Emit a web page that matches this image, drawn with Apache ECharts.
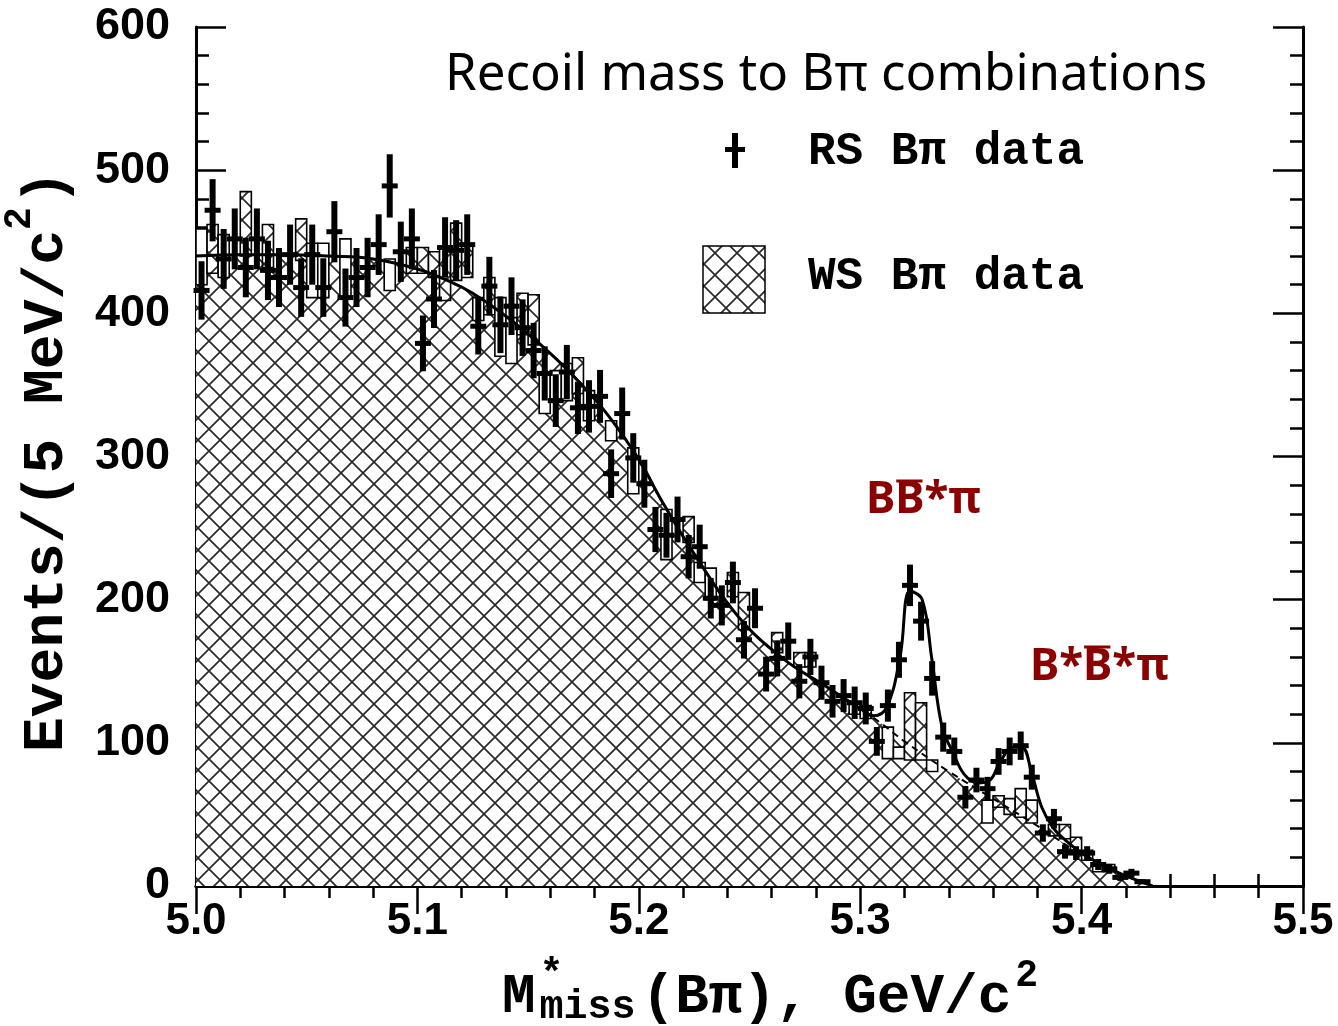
<!DOCTYPE html>
<html><head><meta charset="utf-8">
<script src="https://cdn.jsdelivr.net/npm/echarts@6/dist/echarts.min.js"></script>
<style>html,body{margin:0;padding:0;background:#fff}#c{width:1338px;height:1026px}</style>
</head><body><div id="c"></div>
<script>
// ---- histogram binning (5 MeV bins starting at 5.000 GeV) ----
const binStart = 5.0;
const binWidth = 0.005;

// RS B-pi data: events per bin (error bars = sqrt(N))
const rsCounts = [416,472,438,452,432,452,430,425,441,418,
                  441,418,457,411,425,432,448,489,443,452,
                  379,410,446,444,448,391,419,392,405,390,
                  374,358,339,359,334,335,342,288,330,299,
                  281,249,245,256,230,237,201,196,212,172,
                  194,148,159,171,143,160,142,129,133,128,
                  124,101,126,158,210,185,145,104,94,62,
                  74,68,87,94,98,76,37,47,24,23,
                  23,15,12,6,9,3];

// WS B-pi data: box low / high edge per bin (null = box not visible)
const wsLow  = [420,428,425,null,440,null,432,null,null,437,
                411,411,null,410,null,null,null,416,null,428,
                428,425,409,423,425,395,399,370,365,385,
                378,330,340,339,344,325,null,311,null,274,
                null,null,228,null,240,212,200,null,202,179,
                null,null,163,null,153,153,null,null,null,120,
                117,null,89,89,88,88,80,null,null,null,
                null,44,55,50,48,44,null,35,33,25,
                18,10,10,null,null,null];
const wsHigh = [459,462,455,null,485,null,462,null,null,466,
                449,449,null,452,null,null,null,438,null,446,
                446,443,446,463,448,411,425,411,397,414,
                413,357,360,365,369,346,null,325,null,306,
                null,null,263,null,258,226,222,null,219,205,
                null,null,177,null,163,163,null,null,null,127,
                126,null,111,97,135,128,88,null,null,null,
                null,60,63,61,68,60,null,43,43,34,
                25,15,15,null,null,null];

// Background (dashed) curve
const bkgX = [5.000,5.020,5.040,5.060,5.080,5.100,5.115,5.125,5.140,5.155,5.170,5.185,5.200,5.210,5.225,5.245,5.265,5.285,5.300,5.310,5.320,5.340,5.360,5.380,5.400,5.420,5.432];
const bkgY = [440,441,441,440,438,431,422,414,398,379,357,331,298,270,232,188,159,139,124,113,101,80,61,42,22,7,0];

// Total fit (solid) curve
const fitX = [5.000,5.020,5.040,5.060,5.080,5.100,5.115,5.125,5.140,5.155,5.170,5.185,5.200,5.210,5.225,5.245,5.265,5.285,5.300,5.306,5.312,5.318,5.3225,5.328,5.3324,5.337,5.342,5.347,5.353,5.3586,5.363,5.369,5.373,5.3776,5.382,5.387,5.392,5.400,5.410,5.420,5.432];
const fitY = [440,441,441,440,438,431,422,414,398,379,357,331,298,270,232,188,159,139,124,119,125,160,206,200,158,111,93,78,72,74,86,97,97,78,55,41,33,23,14,7,0];

// axis ranges / ticks
const xMin = 5.0, xMax = 5.5, xStep = 0.1;
const yMin = 0, yMax = 600, yStep = 100;

// ---- helpers ----
function makeHatch(){
  const c = document.createElement('canvas'); c.width = 22; c.height = 22;
  const g = c.getContext('2d');
  g.fillStyle = '#fff'; g.fillRect(0,0,22,22);
  g.strokeStyle = '#2a2a2a'; g.lineWidth = 1.7;
  g.beginPath(); g.moveTo(-3,-3); g.lineTo(25,25); g.moveTo(-3,25); g.lineTo(25,-3); g.stroke();
  return c;
}
const hatchImg = makeHatch();
const hatch = {image: hatchImg, repeat: 'repeat'};

function bkgAt(x){
  for (let i=0;i<bkgX.length-1;i++){
    if (x>=bkgX[i] && x<=bkgX[i+1]){
      const t=(x-bkgX[i])/(bkgX[i+1]-bkgX[i]);
      return bkgY[i]+t*(bkgY[i+1]-bkgY[i]);
    }
  }
  return 0;
}
const center = i => binStart + (i+0.5)*binWidth;

const rsData = rsCounts.map((n,i)=>[center(i), n]);
const wsData = [];
wsLow.forEach((lo,i)=>{ if(lo!==null) wsData.push([center(i), lo, wsHigh[i]]); });

const mctx = document.createElement('canvas').getContext('2d');
function tw(font, s){ mctx.font = font; return mctx.measureText(s).width; }

const chart = echarts.init(document.getElementById('c'), null, {renderer:'canvas'});

const axisCommon = {
  type:'value',
  axisLine:{show:true, lineStyle:{color:'#000', width:3}},
  splitLine:{show:false},
  minorSplitLine:{show:false},
};

// title pieces
const yTitleFont = 'bold 58px "Liberation Mono"';
const yMain = 'Events/(5 MeV/c';
const yW = tw(yTitleFont, yMain);
const supFont = 'bold 38px "Liberation Mono"';
const supW = tw(supFont, '2');

const xMainFont = 'bold 56px "Liberation Mono"';
const xSubFont = 'bold 40px "Liberation Mono"';
const mW = tw(xMainFont, 'M');
const missW = tw(xSubFont, 'miss');
const xRest = '(B\u03C0), GeV/c';
const restW = tw(xMainFont, xRest);

const lblFont = 'bold 44px "Noto Sans"';
const bW = tw(lblFont, 'B');
const bsW = tw(lblFont, 'B*');

const graphics = [
  // y title
  {type:'text', x:47, y:752, rotation:Math.PI/2, silent:true,
   style:{text:yMain, font:yTitleFont, fill:'#000', align:'left', verticalAlign:'middle'}},
  {type:'text', x:20, y:752 - yW, rotation:Math.PI/2, silent:true,
   style:{text:'2', font:supFont, fill:'#000', align:'left', verticalAlign:'middle'}},
  {type:'text', x:47, y:752 - yW - supW - 2, rotation:Math.PI/2, silent:true,
   style:{text:')', font:yTitleFont, fill:'#000', align:'left', verticalAlign:'middle'}},
  // x title
  {type:'text', x:502, y:998, silent:true, style:{text:'M', font:xMainFont, fill:'#000', align:'left', verticalAlign:'middle'}},
  {type:'text', x:502+mW+4, y:976, silent:true, style:{text:'*', font:xSubFont, fill:'#000', align:'left', verticalAlign:'middle'}},
  {type:'text', x:502+mW+4, y:1008, silent:true, style:{text:'miss', font:xSubFont, fill:'#000', align:'left', verticalAlign:'middle'}},
  {type:'text', x:502+mW+missW+10, y:998, silent:true, style:{text:xRest, font:xMainFont, fill:'#000', align:'left', verticalAlign:'middle'}},
  {type:'text', x:502+mW+missW+10+restW+4, y:976, silent:true, style:{text:'2', font:supFont, fill:'#000', align:'left', verticalAlign:'middle'}},
  // chart title
  {type:'text', x:445, y:75, silent:true, style:{text:'Recoil mass to B\u03C0 combinations', font:'51px "Noto Sans"', fill:'#000', align:'left', verticalAlign:'middle'}},
  // legend
  {type:'rect', silent:true, shape:{x:732, y:133, width:6, height:35}, style:{fill:'#000'}},
  {type:'rect', silent:true, shape:{x:725, y:147, width:20, height:5}, style:{fill:'#000'}},
  {type:'text', x:808, y:152, silent:true, style:{text:'RS B\u03C0 data', font:'bold 46px "Liberation Mono"', fill:'#000', align:'left', verticalAlign:'middle'}},
  {type:'rect', silent:true, shape:{x:703, y:246, width:62, height:67}, style:{fill:hatch, stroke:'#000', lineWidth:1.5}},
  {type:'text', x:808, y:277, silent:true, style:{text:'WS B\u03C0 data', font:'bold 46px "Liberation Mono"', fill:'#000', align:'left', verticalAlign:'middle'}},
  // peak labels
  {type:'text', x:866, y:500, silent:true, style:{text:'BB*\u03C0', font:lblFont, fill:'#8B0000', align:'left', verticalAlign:'middle'}},
  {type:'line', silent:true, shape:{x1:866+bW+1, y1:481, x2:866+2*bW-2, y2:481}, style:{stroke:'#8B0000', lineWidth:3}},
  {type:'text', x:1030, y:667, silent:true, style:{text:'B*B*\u03C0', font:lblFont, fill:'#8B0000', align:'left', verticalAlign:'middle'}},
  {type:'line', silent:true, shape:{x1:1030+bsW+1, y1:647, x2:1030+bsW+bW-2, y2:647}, style:{stroke:'#8B0000', lineWidth:3}},
];

const option = {
  animation:false,
  backgroundColor:'#fff',
  grid:{left:196, top:27, width:1107, height:859, containLabel:false},
  xAxis:[
    Object.assign({}, axisCommon, {position:'bottom', min:xMin, max:xMax, interval:xStep,
      axisTick:{show:true, inside:true, length:28, lineStyle:{color:'#000', width:2.5}},
      minorTick:{show:true, splitNumber:5, length:12, lineStyle:{color:'#000', width:2.5}},
      axisLabel:{show:true, margin:14, color:'#000', fontSize:44, fontWeight:'bold', fontFamily:'"Liberation Sans", Arial, sans-serif',
        showMinLabel:true, showMaxLabel:true, formatter:v=>v.toFixed(1)}}),
    Object.assign({}, axisCommon, {position:'top', min:xMin, max:xMax, interval:xStep,
      axisTick:{show:true, inside:true, length:28, lineStyle:{color:'#000', width:2.5}},
      minorTick:{show:true, splitNumber:5, length:12, lineStyle:{color:'#000', width:2.5}},
      axisLabel:{show:false}})
  ],
  yAxis:[
    Object.assign({}, axisCommon, {position:'left', min:yMin, max:yMax, interval:yStep,
      axisTick:{show:true, inside:true, length:30, lineStyle:{color:'#000', width:2.5}},
      minorTick:{show:true, splitNumber:5, length:13, lineStyle:{color:'#000', width:2.5}},
      axisLabel:{show:true, margin:26, color:'#000', fontSize:45, fontWeight:'bold', fontFamily:'"Liberation Sans", Arial, sans-serif',
        showMinLabel:true, showMaxLabel:true}}),
    Object.assign({}, axisCommon, {position:'right', min:yMin, max:yMax, interval:yStep,
      axisTick:{show:true, inside:true, length:30, lineStyle:{color:'#000', width:2.5}},
      minorTick:{show:true, splitNumber:5, length:13, lineStyle:{color:'#000', width:2.5}},
      axisLabel:{show:false}})
  ],
  graphic: graphics,
  series:[
    { // hatched region under background curve
      type:'line', z:1, xAxisIndex:0, yAxisIndex:0, silent:true,
      data: bkgX.map((x,i)=>[x,bkgY[i]]), smooth:0.4, symbol:'none',
      lineStyle:{width:0}, areaStyle:{color:hatch, opacity:1}
    },
    { // WS boxes
      type:'custom', z:2, xAxisIndex:0, yAxisIndex:0, silent:true,
      data: wsData, encode:{x:0, y:[1,2]},
      renderItem:(params, api)=>{
        const x = api.value(0), lo = api.value(1), hi = api.value(2);
        const p1 = api.coord([x - binWidth/2, hi]);
        const p2 = api.coord([x + binWidth/2, lo]);
        const hatched = (lo+hi)/2 > bkgAt(x);
        return {type:'rect', shape:{x:p1[0], y:p1[1], width:p2[0]-p1[0], height:p2[1]-p1[1]},
          style:{fill: hatched ? hatch : '#fff', stroke:'#000', lineWidth:1.6}};
      }
    },
    { // background dashed
      type:'line', z:3, silent:true,
      data: bkgX.map((x,i)=>[x,bkgY[i]]), smooth:0.4, symbol:'none',
      lineStyle:{color:'#000', width:2, type:[7,5]}
    },
    { // total fit
      type:'line', z:4, silent:true,
      data: fitX.map((x,i)=>[x,fitY[i]]), smooth:0.4, symbol:'none',
      lineStyle:{color:'#000', width:3}
    },
    { // RS data with error bars
      type:'custom', z:5, silent:true,
      data: rsData, encode:{x:0, y:1},
      renderItem:(params, api)=>{
        const x = api.value(0), n = api.value(1), e = Math.sqrt(n);
        const top = api.coord([x, n+e]), bot = api.coord([x, Math.max(0,n-e)]), c = api.coord([x, n]);
        return {type:'group', children:[
          {type:'rect', shape:{x:c[0]-3, y:top[1], width:6, height:bot[1]-top[1]}, style:{fill:'#000'}},
          {type:'rect', shape:{x:c[0]-8, y:c[1]-2.5, width:16, height:5}, style:{fill:'#000'}}
        ]};
      }
    }
  ]
};
chart.setOption(option);
</script>
</body></html>
